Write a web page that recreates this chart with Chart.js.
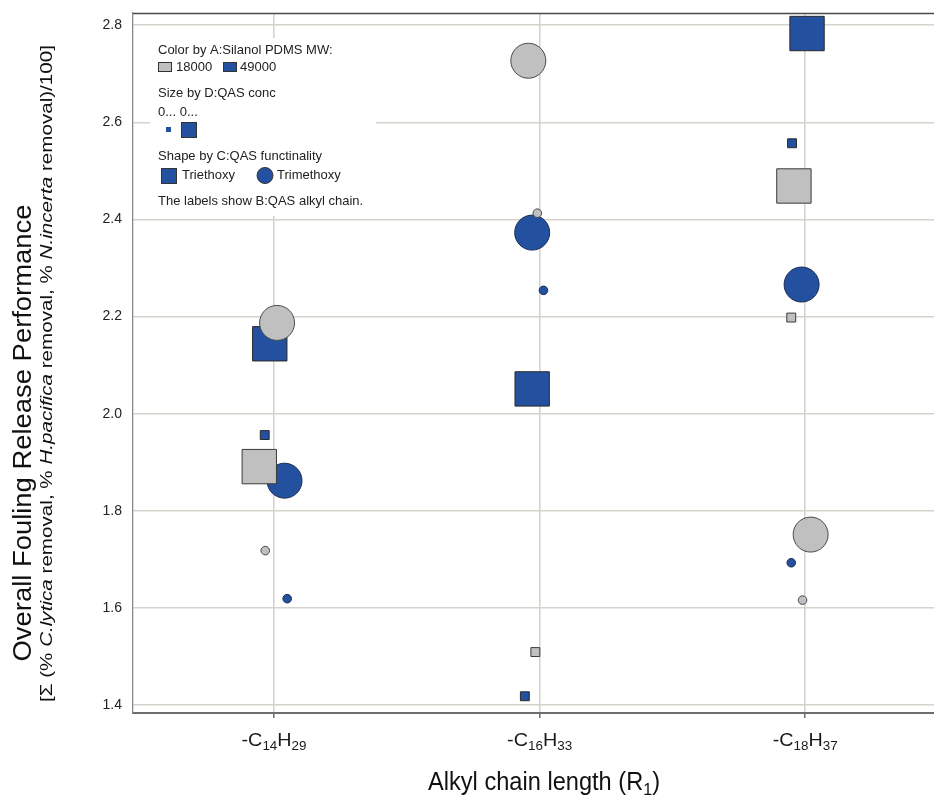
<!DOCTYPE html>
<html><head><meta charset="utf-8">
<script src="https://cdn.jsdelivr.net/npm/chart.js@4.4.1/dist/chart.umd.min.js"></script>
<style>html,body{margin:0;padding:0;background:#fff;overflow:hidden}#wrap{width:934px;height:795px}</style>
</head><body><div id="wrap"><canvas id="c" width="934" height="795"></canvas></div>
<script>
// ---------- DATA ----------
const categories = ['-C14H29', '-C16H33', '-C18H37'];
const chainLength = [14, 16, 18];
const yTicks = [1.4, 1.6, 1.8, 2.0, 2.2, 2.4, 2.6, 2.8];
const yTitle1 = 'Overall Fouling Release Performance';

// A = 18000, C = Trimethoxy
const grayCircleChain  = [14, 14, 16, 16, 18, 18];
const grayCircleJitter = [0.023, -0.066, -0.085, -0.017, 0.041, -0.020];
const grayCircleValue  = [2.187, 1.718, 2.727, 2.413, 1.751, 1.616];
const grayCircleConc   = ['high', 'low', 'high', 'low', 'high', 'low'];

// A = 18000, C = Triethoxy
const graySquareChain  = [14, 16, 18, 18];
const graySquareJitter = [-0.111, -0.032, -0.085, -0.105];
const graySquareValue  = [1.891, 1.509, 2.469, 2.198];
const graySquareConc   = ['high', 'low', 'high', 'low'];

// A = 49000, C = Triethoxy
const blueSquareChain  = [14, 14, 16, 16, 18, 18];
const blueSquareJitter = [-0.032, -0.070, -0.056, -0.111, 0.014, -0.099];
const blueSquareValue  = [2.144, 1.956, 2.051, 1.418, 2.783, 2.557];
const blueSquareConc   = ['high', 'low', 'high', 'low', 'high', 'low'];

// A = 49000, C = Trimethoxy
const blueCircleChain  = [14, 14, 16, 16, 18, 18];
const blueCircleJitter = [0.079, 0.099, -0.056, 0.029, -0.027, -0.105];
const blueCircleValue  = [1.862, 1.619, 2.373, 2.254, 2.266, 1.693];
const blueCircleConc   = ['high', 'low', 'high', 'low', 'high', 'low'];

// ---------- STYLE ----------
const FONT = "'Liberation Sans', Arial, sans-serif";
const GRAY = '#c0c0c0', BLUE = '#24519f';
const circleRadius = {high: 17.5, low: 4.3};
const squareRadius = {high: 24.3, low: 6.3};

function pts(chain, jit, val) {
  return chain.map((c, i) => ({x: c + jit[i], y: val[i]}));
}
function ds(label, chain, jit, val, conc, color, style, radii, border) {
  return {
    label, data: pts(chain, jit, val),
    pointStyle: style,
    backgroundColor: color,
    borderColor: border,
    borderWidth: 1,
    pointRadius: conc.map(c => radii[c]),
    pointHoverRadius: conc.map(c => radii[c]),
    showLine: false,
    clip: false
  };
}

function richFromFormula(str) {
  return str.split(/(\d+)/).filter(s => s.length).map(s => ({t: s, sub: /^\d+$/.test(s)}));
}
function drawRich(ctx, segs, size, targetW, color) {
  ctx.save();
  ctx.fillStyle = color;
  ctx.textBaseline = 'alphabetic';
  ctx.textAlign = 'left';
  let total = 0; const w = [];
  segs.forEach(s => {
    const fs = s.sub ? size * 0.68 : size;
    ctx.font = (s.it ? 'italic ' : '') + fs + 'px ' + FONT;
    const m = ctx.measureText(s.t).width; w.push(m); total += m;
  });
  const sx = targetW ? targetW / total : 1;
  ctx.scale(sx, 1);
  let x = -total / 2;
  segs.forEach((s, i) => {
    const fs = s.sub ? size * 0.68 : size;
    ctx.font = (s.it ? 'italic ' : '') + fs + 'px ' + FONT;
    ctx.fillText(s.t, x, s.sub ? size * 0.2 : 0);
    x += w[i];
  });
  ctx.restore();
}

const decor = {
  id: 'decor',
  afterDraw(chart) {
    const ctx = chart.ctx, ca = chart.chartArea, xs = chart.scales.x;
    ctx.save();
    ctx.strokeStyle = '#4a4a4a'; ctx.lineWidth = 1.3;
    ctx.beginPath(); ctx.moveTo(ca.left, ca.top + 0.5); ctx.lineTo(ca.right, ca.top + 0.5); ctx.stroke();
    ctx.restore();

    categories.forEach((c, i) => {
      ctx.save();
      ctx.translate(xs.getPixelForValue(chainLength[i]), 746);
      drawRich(ctx, richFromFormula(c), 19, 65, '#1a1a1a');
      ctx.restore();
    });
    ctx.save();
    ctx.translate(544, 790);
    drawRich(ctx, [{t: 'Alkyl chain length (R'}, {t: '1', sub: true}, {t: ')'}], 25, 232, '#111');
    ctx.restore();
    ctx.save();
    ctx.translate(31, 433); ctx.rotate(-Math.PI / 2);
    drawRich(ctx, [{t: yTitle1}], 26, 457, '#111');
    ctx.restore();
    ctx.save();
    ctx.translate(52, 373.5); ctx.rotate(-Math.PI / 2);
    drawRich(ctx, [
      {t: '[\u03A3 (% '}, {t: 'C.lytica', it: true}, {t: ' removal, % '},
      {t: 'H.pacifica', it: true}, {t: ' removal, % '},
      {t: 'N.incerta', it: true}, {t: ' removal)/100]'}
    ], 17, 657, '#111');
    ctx.restore();

    ctx.save();
    ctx.fillStyle = '#fff';
    ctx.fillRect(150, 38, 226, 178);
    ctx.font = '13px ' + FONT;
    ctx.fillStyle = '#222';
    ctx.textBaseline = 'middle';
    ctx.fillText('Color by A:Silanol PDMS MW:', 158, 50);
    ctx.strokeStyle = '#333'; ctx.lineWidth = 1;
    ctx.fillStyle = GRAY; ctx.fillRect(158.5, 62.5, 13, 9); ctx.strokeRect(158.5, 62.5, 13, 9);
    ctx.fillStyle = BLUE; ctx.fillRect(223.5, 62.5, 13, 9); ctx.strokeRect(223.5, 62.5, 13, 9);
    ctx.fillStyle = '#222';
    ctx.fillText('18000', 176, 67);
    ctx.fillText('49000', 240, 67);
    ctx.fillText('Size by D:QAS conc', 158, 93);
    ctx.fillText('0... 0...', 158, 112);
    ctx.fillStyle = BLUE;
    ctx.fillRect(166, 127, 5, 5);
    ctx.fillRect(181.5, 122.5, 15, 15); ctx.strokeRect(181.5, 122.5, 15, 15);
    ctx.fillStyle = '#222';
    ctx.fillText('Shape by C:QAS functinality', 158, 156);
    ctx.fillStyle = BLUE;
    ctx.fillRect(161.5, 168.5, 15, 15); ctx.strokeRect(161.5, 168.5, 15, 15);
    ctx.beginPath(); ctx.arc(265, 175.5, 8, 0, Math.PI * 2); ctx.fill(); ctx.stroke();
    ctx.fillStyle = '#222';
    ctx.fillText('Triethoxy', 182, 175);
    ctx.fillText('Trimethoxy', 277, 175);
    ctx.fillText('The labels show B:QAS alkyl chain.', 158, 201);
    ctx.restore();
  }
};

function noPad(s) { s.paddingTop = 0; s.paddingBottom = 0; s.paddingLeft = 0; s.paddingRight = 0; }

new Chart(document.getElementById('c'), {
  type: 'scatter',
  data: {
    datasets: [
      ds('18000 Trimethoxy', grayCircleChain, grayCircleJitter, grayCircleValue, grayCircleConc, GRAY, 'circle', circleRadius, '#4a4a4a'),
      ds('18000 Triethoxy', graySquareChain, graySquareJitter, graySquareValue, graySquareConc, GRAY, 'rect', squareRadius, '#3a3a3a'),
      ds('49000 Triethoxy', blueSquareChain, blueSquareJitter, blueSquareValue, blueSquareConc, BLUE, 'rect', squareRadius, '#2a2a2a'),
      ds('49000 Trimethoxy', blueCircleChain, blueCircleJitter, blueCircleValue, blueCircleConc, BLUE, 'circle', circleRadius, '#1c2c55')
    ]
  },
  options: {
    responsive: false,
    animation: false,
    devicePixelRatio: 1,
    layout: {autoPadding: false, padding: {top: 13, left: 0, right: 0, bottom: 0}},
    plugins: {legend: {display: false}, tooltip: {enabled: false}, title: {display: false}},
    scales: {
      x: {
        type: 'linear', min: 12.938, max: 18.97,
        afterBuildTicks: s => { s.ticks = chainLength.map(v => ({value: v})); },
        afterFit: s => { s.height = 82; noPad(s); },
        ticks: {callback: () => '', padding: 0, maxRotation: 0},
        grid: {color: '#d6d3cc', lineWidth: 1.6, drawTicks: true, tickLength: 5, tickColor: '#555', tickWidth: 1.3},
        border: {display: true, color: '#6e6e6e', width: 2}
      },
      y: {
        type: 'linear', min: 1.3835, max: 2.8253,
        afterBuildTicks: s => { s.ticks = yTicks.map(v => ({value: v})); },
        afterFit: s => { s.width = 133; noPad(s); },
        ticks: {
          callback: v => v.toFixed(1),
          font: {family: FONT, size: 14}, color: '#222', padding: 11
        },
        grid: {color: '#d6d3cc', lineWidth: 1.6, drawTicks: false},
        border: {display: true, color: '#8a8a8a', width: 1.3}
      }
    }
  },
  plugins: [decor]
});
</script>
</body></html>
